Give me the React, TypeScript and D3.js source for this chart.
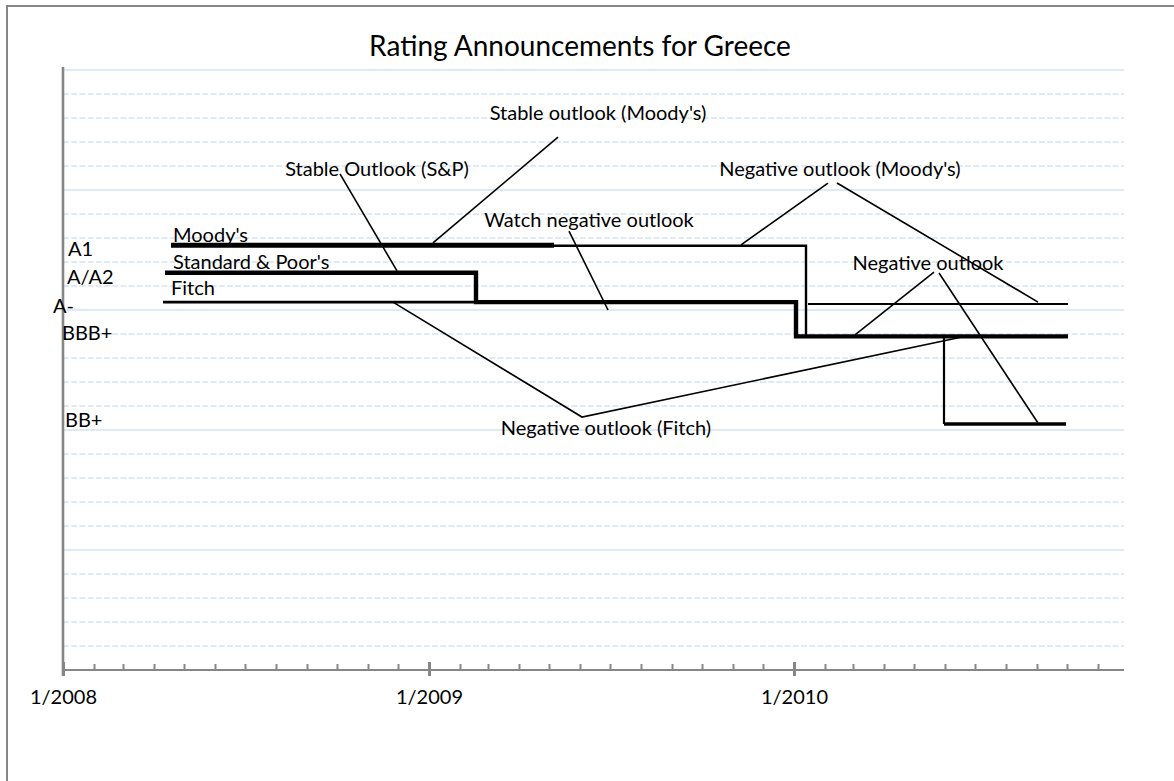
import { useEffect, useRef } from 'react'
import * as d3 from 'd3'

const parse = d3.timeParse('%Y-%m-%d')

// Rating steps (value on the chart's 0–25 scale)
const moodysDates = ['2008-04-18', '2009-05-06']
const moodysValues = [17.7, 17.7]
const moodysLateDates = ['2009-05-06', '2010-01-13', '2010-01-13']
const moodysLateValues = [17.68, 17.68, 13.95]
const moodysA3Dates = ['2010-01-15', '2010-10-02']
const moodysA3Values = [15.25, 15.25]
const spDates = ['2008-04-12', '2009-02-17', '2009-02-17', '2010-01-03', '2010-01-03', '2010-10-02']
const spValues = [16.55, 16.55, 15.33, 15.33, 13.9, 13.9]
const fitchDates = ['2008-04-10', '2009-02-17']
const fitchValues = [15.33, 15.33]
const junkStepDates = ['2010-05-31', '2010-05-31']
const junkStepValues = [13.9, 10.25]
const junkDates = ['2010-05-31', '2010-09-30']
const junkValues = [10.25, 10.25]

// Rating names written next to the y axis
const ratingLabels = ['A1', 'A/A2', 'A-', 'BBB+', 'BB+']
const ratingValues = [17.54, 16.375, 15.17, 14.04, 10.42]

// Agency names above their lines
const seriesNames = ["Moody's", "Standard & Poor's", 'Fitch']
const seriesLabelDates = ['2008-04-20', '2008-04-20', '2008-04-18']
const seriesLabelValues = [18.125, 17.0, 15.92]

// Announcement call-outs
const noteTexts = [
  "Stable outlook (Moody's)",
  'Stable Outlook (S&P)',
  'Watch negative outlook',
  "Negative outlook (Moody's)",
  'Negative outlook',
  'Negative outlook (Fitch)',
]
const noteDates = ['2009-06-19', '2008-11-10', '2009-06-10', '2010-02-16', '2010-05-15', '2009-06-27']
const noteValues = [23.2, 20.9, 18.75, 20.875, 16.96, 10.08]

const leaderDates = [
  ['2009-05-10', '2009-01-05'],
  ['2008-10-04', '2008-11-30'],
  ['2009-05-21', '2009-06-29'],
  ['2010-02-04', '2009-11-09'],
  ['2010-02-13', '2010-09-02'],
  ['2010-05-21', '2010-03-03'],
  ['2010-05-26', '2010-09-02'],
  ['2008-11-26', '2009-06-03', '2010-06-18'],
]
const leaderValues = [
  [22.2, 17.8],
  [20.67, 16.63],
  [18.29, 15.0],
  [20.29, 17.71],
  [20.29, 15.33],
  [16.58, 13.96],
  [16.54, 10.29],
  [15.33, 10.54, 13.875],
]

const FONT = 'Lato, "Open Sans", sans-serif'
const GRID = '#d6e3f1'
const AXIS = '#868686'

export default function App() {
  const ref = useRef<SVGSVGElement>(null)

  useEffect(() => {
    if (!ref.current) return
    const W = 1174
    const H = 781
    const plot = { left: 63, right: 1124, top: 70, bottom: 670 }

    d3.select(ref.current).selectAll('*').remove()
    const svg = d3.select(ref.current).attr('width', W).attr('height', H).style('font-family', FONT)

    svg.append('rect').attr('width', W).attr('height', H).attr('fill', '#fff')
    // chart frame (cropped on the right and bottom)
    svg.append('rect')
      .attr('x', 7).attr('y', 6).attr('width', W + 20).attr('height', H + 20)
      .attr('fill', 'none').attr('stroke', AXIS).attr('stroke-width', 2)

    const x = d3.scaleTime()
      .domain([parse('2008-01-01')!, parse('2010-11-27')!])
      .range([plot.left, plot.right])
    const y = d3.scaleLinear().domain([0, 25]).range([plot.bottom, plot.top])

    // Gridlines: dashed minor every unit, solid major every 5
    const g = svg.append('g')
    const minor = d3.range(1, 26).filter((v) => v % 5 !== 0)
    const major = d3.range(5, 26, 5)
    g.selectAll('.minor').data(minor).join('line')
      .attr('x1', plot.left).attr('x2', plot.right)
      .attr('y1', (d) => y(d)).attr('y2', (d) => y(d))
      .attr('stroke', GRID).attr('stroke-width', 1.5).attr('stroke-dasharray', '6,2.2')
    g.selectAll('.major').data(major).join('line')
      .attr('x1', plot.left).attr('x2', plot.right)
      .attr('y1', (d) => y(d)).attr('y2', (d) => y(d))
      .attr('stroke', GRID).attr('stroke-width', 1.5)

    // X axis: monthly minor ticks inside, yearly major ticks crossing
    svg.append('g')
      .attr('transform', `translate(0,${plot.bottom})`)
      .call(d3.axisBottom(x).ticks(d3.timeMonth.every(1)).tickSize(-6).tickFormat(() => ''))
      .call((sel) => sel.select('.domain').remove())
      .call((sel) => sel.selectAll('line').attr('stroke', AXIS).attr('stroke-width', 2))

    svg.append('g')
      .attr('transform', `translate(0,${plot.bottom})`)
      .call(d3.axisBottom(x).ticks(d3.timeYear.every(1)).tickSize(6).tickFormat((d) => d3.timeFormat('%-m/%Y')(d as Date)))
      .call((sel) => sel.select('.domain').remove())
      .call((sel) => sel.selectAll('line').attr('y1', -8).attr('stroke', AXIS).attr('stroke-width', 3))
      .call((sel) => sel.selectAll('text')
        .attr('font-family', FONT).attr('font-size', 20).attr('fill', '#000')
        .attr('y', 34).attr('dy', 0))

    svg.append('line')
      .attr('x1', plot.left).attr('x2', plot.right)
      .attr('y1', plot.bottom).attr('y2', plot.bottom)
      .attr('stroke', AXIS).attr('stroke-width', 2.2)
    svg.append('line')
      .attr('x1', plot.left).attr('x2', plot.left)
      .attr('y1', plot.top - 3).attr('y2', plot.bottom + 6)
      .attr('stroke', AXIS).attr('stroke-width', 2.6)

    // Rating lines
    const segments = [
      { dates: moodysDates, values: moodysValues, width: 5 },
      { dates: moodysLateDates, values: moodysLateValues, width: 2.4 },
      { dates: moodysA3Dates, values: moodysA3Values, width: 2.2 },
      { dates: fitchDates, values: fitchValues, width: 2.8 },
      { dates: spDates, values: spValues, width: 4.4 },
      { dates: junkStepDates, values: junkStepValues, width: 2.2 },
      { dates: junkDates, values: junkValues, width: 3.6 },
    ]
    const line = d3.line<[Date, number]>().x((d) => x(d[0])).y((d) => y(d[1]))
    segments.forEach((s) => {
      const pts = s.dates.map((d, i) => [parse(d)!, s.values[i]] as [Date, number])
      svg.append('path').attr('d', line(pts)!)
        .attr('fill', 'none').attr('stroke', '#000').attr('stroke-width', s.width)
        .attr('stroke-linejoin', 'miter').attr('stroke-linecap', 'butt')
    })

    // Call-out leaders
    leaderDates.forEach((ds, i) => {
      const pts = ds.map((d, j) => [parse(d)!, leaderValues[i][j]] as [Date, number])
      svg.append('path').attr('d', line(pts)!)
        .attr('fill', 'none').attr('stroke', '#000').attr('stroke-width', 1.6)
    })

    // Title
    svg.append('text')
      .attr('x', 580).attr('y', 56).attr('text-anchor', 'middle')
      .attr('font-size', 28).attr('fill', '#000')
      .text('Rating Announcements for Greece')

    const ratingDx = [5, 4, -10, -1, 2]
    svg.selectAll('.rating').data(ratingLabels).join('text')
      .attr('x', (_, i) => plot.left + ratingDx[i])
      .attr('y', (_, i) => y(ratingValues[i])).attr('dy', '0.36em')
      .attr('font-size', 20).attr('fill', '#000')
      .text((d) => d)

    svg.selectAll('.series').data(seriesNames).join('text')
      .attr('x', (_, i) => x(parse(seriesLabelDates[i])!))
      .attr('y', (_, i) => y(seriesLabelValues[i])).attr('dy', '0.36em')
      .attr('font-size', 20).attr('fill', '#000')
      .text((d) => d)

    svg.selectAll('.note').data(noteTexts).join('text')
      .attr('x', (_, i) => x(parse(noteDates[i])!))
      .attr('y', (_, i) => y(noteValues[i])).attr('dy', '0.36em')
      .attr('text-anchor', 'middle')
      .attr('font-size', 20).attr('fill', '#000')
      .text((d) => d)
  }, [])

  return (
    <svg ref={ref} style={{ position: 'absolute', left: 0, top: 0, display: 'block' }} />
  )
}
